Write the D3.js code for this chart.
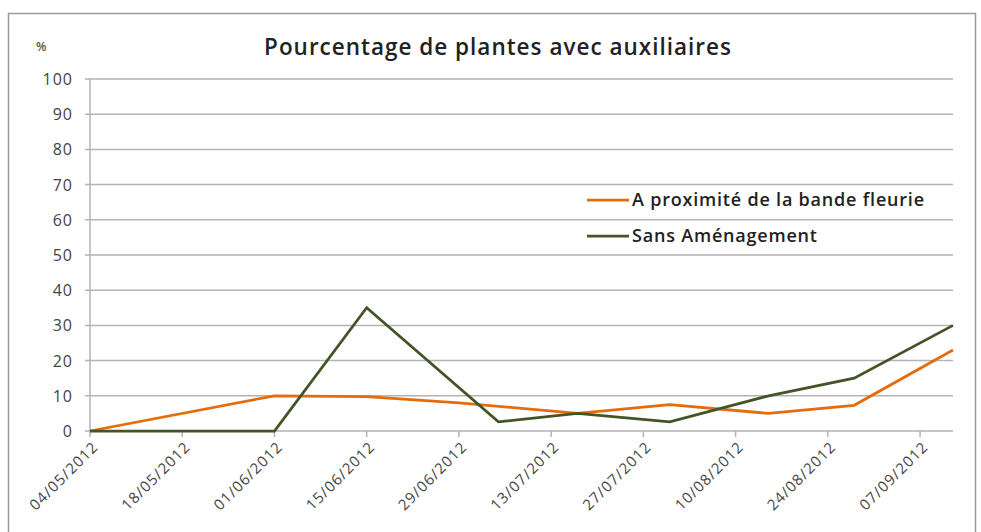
<!DOCTYPE html>
<html>
<head>
<meta charset="utf-8">
<script src="https://cdn.jsdelivr.net/npm/d3@7"></script>
<style>
  body { margin: 0; background: #fff; }
  svg { display: block; }
</style>
</head>
<body>
<script>
// series data
var seriesNames = ["A proximité de la bande fleurie", "Sans Aménagement"];
var seriesColors = ["#e46c0a", "#435426"];

var datesProx = ["04/05/2012", "01/06/2012", "15/06/2012", "29/06/2012", "17/07/2012",
                 "31/07/2012", "15/08/2012", "28/08/2012", "12/09/2012"];
var valuesProx = [0, 10, 9.8, 8, 5, 7.5, 5, 7.3, 23];

var datesSans = ["04/05/2012", "01/06/2012", "15/06/2012", "05/07/2012", "17/07/2012",
                 "31/07/2012", "15/08/2012", "28/08/2012", "12/09/2012"];
var valuesSans = [0, 0, 35, 2.6, 5, 2.6, 10, 15, 30];

// tick labels
var xTickLabels = ["04/05/2012", "18/05/2012", "01/06/2012", "15/06/2012", "29/06/2012",
                   "13/07/2012", "27/07/2012", "10/08/2012", "24/08/2012", "07/09/2012"];
var yTicks = [0, 10, 20, 30, 40, 50, 60, 70, 80, 90, 100];

window.onload = function() {
  drawChart();
};

function drawChart() {
  var parseDate = d3.timeParse("%d/%m/%Y");

  var w = 981, h = 532;
  var plotLeft = 90, plotRight = 953, plotTop = 79, plotBottom = 431;
  var font = "'Open Sans', sans-serif";

  var svg = d3.select("body").append("svg")
      .attr("width", w)
      .attr("height", h);

  // chart frame
  svg.append("rect")
     .attr("x", 8.5).attr("y", 13.5)
     .attr("width", 967).attr("height", 530)
     .attr("fill", "#fff")
     .attr("stroke", "#9a9a9a")
     .attr("stroke-width", 1.5);

  var xScale = d3.scaleTime()
      .domain([parseDate("04/05/2012"), parseDate("12/09/2012")])
      .range([plotLeft, plotRight]);

  var yScale = d3.scaleLinear()
      .domain([0, 100])
      .range([plotBottom, plotTop]);

  // horizontal gridlines
  svg.append("g")
     .selectAll("line")
     .data(yTicks)
     .enter()
     .append("line")
     .attr("x1", plotLeft - 5)
     .attr("x2", plotRight)
     .attr("y1", function(d) { return yScale(d); })
     .attr("y2", function(d) { return yScale(d); })
     .attr("stroke", "#b3b3b3")
     .attr("stroke-width", 1.5);

  // y axis line
  svg.append("line")
     .attr("x1", plotLeft).attr("x2", plotLeft)
     .attr("y1", plotTop).attr("y2", plotBottom)
     .attr("stroke", "#b3b3b3")
     .attr("stroke-width", 1.5);

  // y tick labels
  svg.append("g")
     .selectAll("text")
     .data(yTicks)
     .enter()
     .append("text")
     .attr("x", 73)
     .attr("y", function(d) { return yScale(d) + 6; })
     .attr("text-anchor", "end")
     .attr("font-family", font)
     .attr("font-size", "16px")
     .attr("letter-spacing", "1px")
     .attr("fill", "#444")
     .text(function(d) { return d; });

  // x axis ticks
  var xTickDates = xTickLabels.map(parseDate);
  svg.append("g")
     .selectAll("line")
     .data(xTickDates)
     .enter()
     .append("line")
     .attr("x1", function(d) { return xScale(d); })
     .attr("x2", function(d) { return xScale(d); })
     .attr("y1", plotBottom)
     .attr("y2", plotBottom + 6)
     .attr("stroke", "#b3b3b3")
     .attr("stroke-width", 1.5);

  // x tick labels, rotated
  svg.append("g")
     .selectAll("text")
     .data(xTickLabels)
     .enter()
     .append("text")
     .attr("transform", function(d) {
        return "translate(" + (xScale(parseDate(d)) + 9) + "," + (plotBottom + 17) + ") rotate(-45)";
     })
     .attr("text-anchor", "end")
     .attr("font-family", font)
     .attr("font-size", "15px")
     .attr("letter-spacing", "1px")
     .attr("fill", "#444")
     .text(function(d) { return d; });

  // lines
  var line = d3.line()
      .x(function(d) { return xScale(d[0]); })
      .y(function(d) { return yScale(d[1]); });

  var seriesData = [
    datesProx.map(function(d, i) { return [parseDate(d), valuesProx[i]]; }),
    datesSans.map(function(d, i) { return [parseDate(d), valuesSans[i]]; })
  ];

  svg.append("g")
     .selectAll("path")
     .data(seriesData)
     .enter()
     .append("path")
     .attr("d", line)
     .attr("fill", "none")
     .attr("stroke", function(d, i) { return seriesColors[i]; })
     .attr("stroke-width", 2.75);

  // title
  svg.append("text")
     .attr("x", 498)
     .attr("y", 55)
     .attr("text-anchor", "middle")
     .attr("font-family", font)
     .attr("font-size", "22.5px")
     .attr("font-weight", "600")
     .attr("letter-spacing", "1px")
     .attr("fill", "#222")
     .text("Pourcentage de plantes avec auxiliaires");

  // % label
  svg.append("text")
     .attr("x", 36)
     .attr("y", 51)
     .attr("font-family", font)
     .attr("font-size", "12px")
     .attr("font-weight", "600")
     .attr("fill", "#555")
     .text("%");

  // legend
  var legend = svg.append("g");
  for (var n = 0; n < seriesNames.length; n++) {
    var ly = 200 + n * 36;
    legend.append("line")
          .attr("x1", 587).attr("x2", 629)
          .attr("y1", ly).attr("y2", ly)
          .attr("stroke", seriesColors[n])
          .attr("stroke-width", 2.75);
    legend.append("text")
          .attr("x", 632)
          .attr("y", ly + 6)
          .attr("font-family", font)
          .attr("font-size", "18px")
          .attr("font-weight", "600")
          .attr("letter-spacing", "0.8px")
          .attr("fill", "#222")
          .text(seriesNames[n]);
  }
}
</script>
</body>
</html>
